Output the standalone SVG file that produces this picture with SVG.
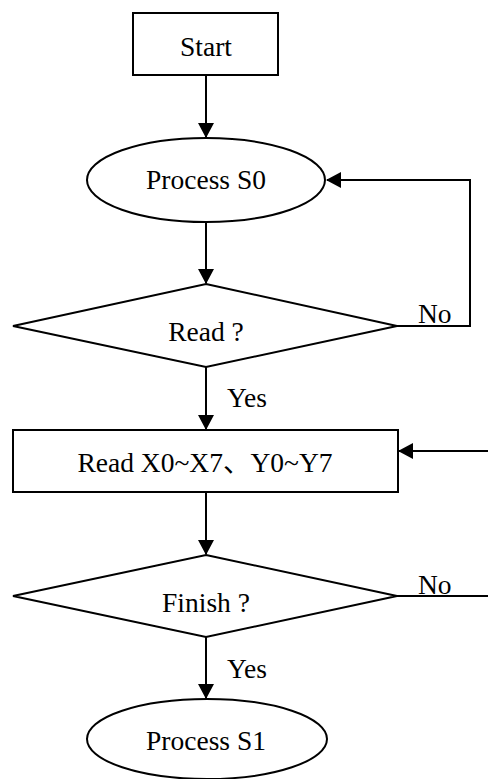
<svg xmlns="http://www.w3.org/2000/svg" width="488" height="779" viewBox="0 0 488 779">
<style>
.s{fill:#fff;stroke:#000;stroke-width:2}
.c{fill:none;stroke:#000;stroke-width:2}
.t{font-family:"Liberation Serif","Noto Sans CJK SC",serif;font-size:27.5px;fill:#000}
.m{text-anchor:middle}
</style>
<defs>
<marker id="ah" markerUnits="userSpaceOnUse" markerWidth="15" markerHeight="16" viewBox="0 0 15 16" refX="14" refY="8" orient="auto">
<path d="M0,0 L15,8 L0,16 Z" fill="#000"/>
</marker>
</defs>
<rect width="488" height="779" fill="#fff"/>
<g id="connectors">
<line class="c" x1="206" y1="75" x2="206" y2="137" marker-end="url(#ah)"/>
<line class="c" x1="206" y1="222" x2="206" y2="283" marker-end="url(#ah)"/>
<polyline class="c" points="397,326 470,326 470,180 327,180" marker-end="url(#ah)"/>
<line class="c" x1="206" y1="367" x2="206" y2="429" marker-end="url(#ah)"/>
<line class="c" x1="488" y1="451" x2="399" y2="451" marker-end="url(#ah)"/>
<line class="c" x1="206" y1="492" x2="206" y2="554" marker-end="url(#ah)"/>
<line class="c" x1="397" y1="596" x2="488" y2="596"/>
<line class="c" x1="206" y1="637" x2="206" y2="698" marker-end="url(#ah)"/>
<text class="t" x="418" y="323">No</text>
<text class="t" x="227" y="407">Yes</text>
<text class="t" x="418" y="594">No</text>
<text class="t" x="227" y="678">Yes</text>
</g>
<g id="start">
<rect class="s" x="133" y="13" width="145" height="62"/>
<text class="t m" x="206" y="56">Start</text>
</g>
<g id="process-s0">
<ellipse class="s" cx="206" cy="180" rx="119" ry="42"/>
<text class="t m" x="206" y="189">Process S0</text>
</g>
<g id="read-decision">
<polygon class="s" points="206,284 397,326 206,367 13,326"/>
<text class="t m" x="206" y="341">Read ?</text>
</g>
<g id="read-xy">
<rect class="s" x="13" y="430" width="385" height="62"/>
<text class="t m" x="205" y="472">Read X0~X7、Y0~Y7</text>
</g>
<g id="finish-decision">
<polygon class="s" points="206,555 397,596 206,637 13,596"/>
<text class="t m" x="206" y="612">Finish ?</text>
</g>
<g id="process-s1">
<ellipse class="s" cx="207" cy="739" rx="120" ry="40"/>
<text class="t m" x="206" y="750">Process S1</text>
</g>
</svg>
